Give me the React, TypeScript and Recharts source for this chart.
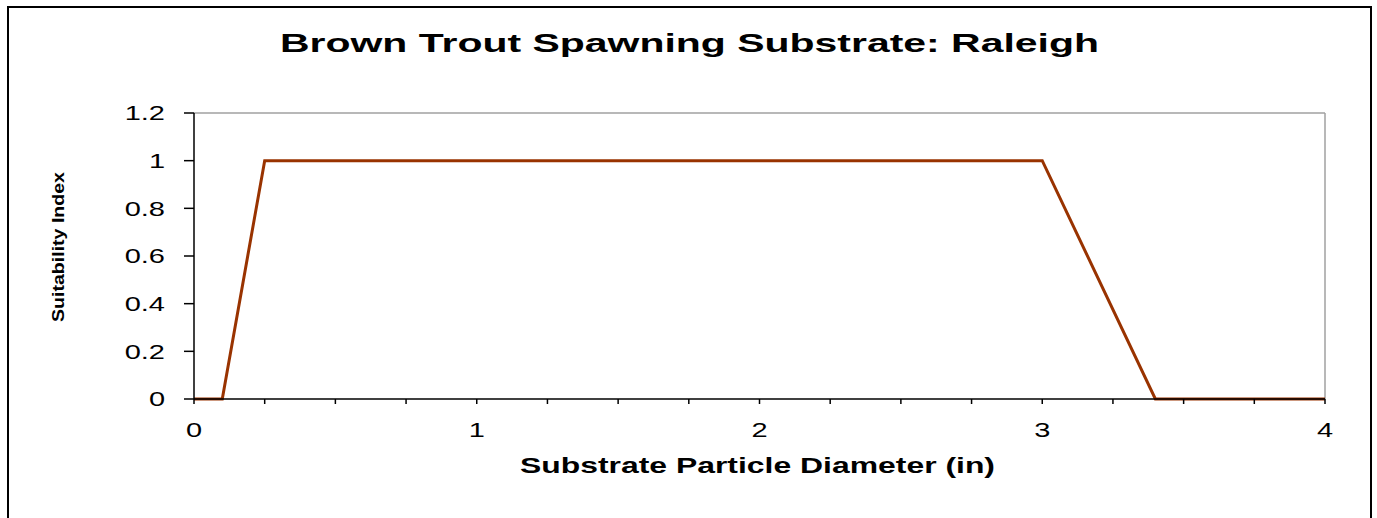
import React from "react";
import { LineChart, Line, XAxis, YAxis, ReferenceLine, Label } from "recharts";

// Suitability curve breakpoints
const diameters = [0, 0.1, 0.25, 3, 3.4, 4];
const suitability = [0, 0, 1, 1, 0, 0];

const xTicks = [0, 0.25, 0.5, 0.75, 1, 1.25, 1.5, 1.75, 2, 2.25, 2.5, 2.75, 3, 3.25, 3.5, 3.75, 4];
const yTicks = [0, 0.2, 0.4, 0.6, 0.8, 1, 1.2];

const TITLE = "Brown Trout Spawning Substrate: Raleigh";
const X_LABEL = "Substrate Particle Diameter (in)";
const Y_LABEL = "Suitability Index";

const FONT = '"Liberation Sans", Arial, sans-serif';
const LINE_COLOR = "#993300";

const data = diameters.map((d, i) => ({ d, si: suitability[i] }));

// only integers get a label, the quarter ticks are bare marks
function XTick({ x, y, payload }: any) {
  if (!Number.isInteger(payload.value)) return <g />;
  return (
    <g transform={`translate(${x},${y})`}>
      <text
        transform="scale(1.45,1)"
        textAnchor="middle"
        dy="0.72em"
        fontSize={20}
        fontFamily={FONT}
        fill="#000"
      >
        {payload.value}
      </text>
    </g>
  );
}

function YTick({ x, y, payload }: any) {
  return (
    <g transform={`translate(${x},${y})`}>
      <text
        transform="scale(1.45,1)"
        textAnchor="end"
        dy="0.36em"
        fontSize={20}
        fontFamily={FONT}
        fill="#000"
      >
        {payload.value}
      </text>
    </g>
  );
}

export default function App() {
  return (
    <div
      style={{
        position: "fixed",
        left: 0,
        top: 0,
        width: 1377,
        height: 518,
        overflow: "hidden",
        background: "#fff",
      }}
    >
      <div
        style={{
          position: "absolute",
          left: 7,
          top: 6,
          width: 1361,
          height: 530,
          border: "2px solid #000",
        }}
      />
      <svg
        width={1377}
        height={70}
        style={{ position: "absolute", left: 0, top: 0 }}
      >
        <text
          x={280}
          y={52}
          fontSize={25}
          fontWeight="bold"
          fontFamily={FONT}
          textLength={819}
          lengthAdjust="spacingAndGlyphs"
          fill="#000"
        >
          {TITLE}
        </text>
      </svg>
      <div style={{ position: "absolute", left: 0, top: 0 }}>
        <LineChart
          width={1377}
          height={518}
          data={data}
          margin={{ top: 113, right: 52, left: 0, bottom: 0 }}
        >
          <XAxis
            dataKey="d"
            type="number"
            domain={[0, 4]}
            ticks={xTicks}
            interval={0}
            height={119}
            tickSize={5}
            tickMargin={19}
            tick={<XTick />}
            stroke="#000"
            strokeWidth={1.5}
          >
            <Label
              content={({ viewBox }: any) => (
                <text
                  x={viewBox.x + viewBox.width / 2 - 2}
                  y={473}
                  textAnchor="middle"
                  fontSize={22}
                  fontWeight="bold"
                  fontFamily={FONT}
                  textLength={475}
                  lengthAdjust="spacingAndGlyphs"
                  fill="#000"
                >
                  {X_LABEL}
                </text>
              )}
            />
          </XAxis>
          <YAxis
            type="number"
            domain={[0, 1.2]}
            ticks={yTicks}
            interval={0}
            width={194}
            tickSize={10}
            tickMargin={19}
            tick={<YTick />}
            stroke="#000"
            strokeWidth={1.5}
          >
            <Label
              content={() => (
                <text
                  x={64}
                  y={247}
                  transform="rotate(-90 64 247)"
                  textAnchor="middle"
                  fontSize={17}
                  fontWeight="bold"
                  fontFamily={FONT}
                  textLength={150}
                  lengthAdjust="spacingAndGlyphs"
                  fill="#000"
                >
                  {Y_LABEL}
                </text>
              )}
            />
          </YAxis>
          <ReferenceLine y={1.2} stroke="#a0a0a0" strokeWidth={1.5} />
          <ReferenceLine x={4} stroke="#a0a0a0" strokeWidth={1.5} />
          <Line
            type="linear"
            dataKey="si"
            stroke={LINE_COLOR}
            strokeWidth={3}
            dot={false}
            isAnimationActive={false}
          />
        </LineChart>
      </div>
    </div>
  );
}
